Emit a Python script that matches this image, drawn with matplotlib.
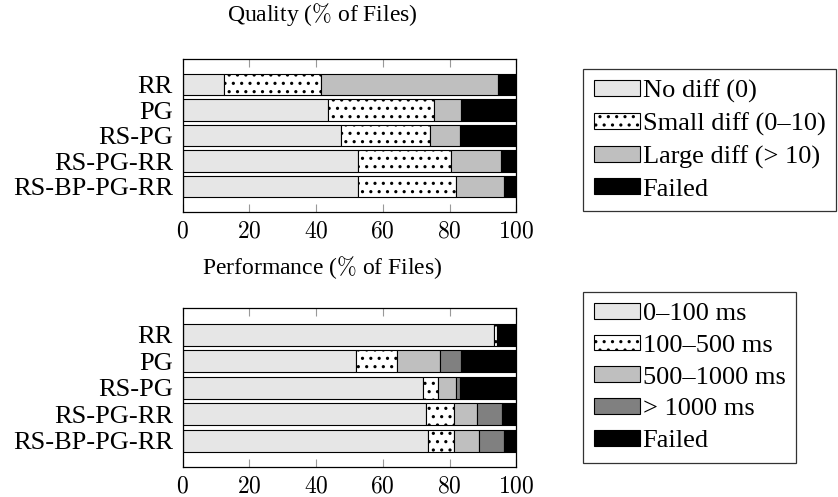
import matplotlib
matplotlib.use("Agg")
import matplotlib.pyplot as plt
from matplotlib.patches import Patch

plt.rcParams['font.family'] = ['Liberation Serif', 'DejaVu Serif']
plt.rcParams['mathtext.fontset'] = 'cm'
plt.rcParams['hatch.linewidth'] = 1.1

# methods, top to bottom
methods = ["RR", "PG", "RS-PG", "RS-PG-RR", "RS-BP-PG-RR"]

# quality shares (% of files)
q_labels = ["No diff (0)", "Small diff (0\u201310)", "Large diff (> 10)", "Failed"]
q_nodiff = [12.5, 43.7, 47.6, 52.5, 52.5]
q_small = [28.9, 31.8, 26.7, 28.0, 29.4]
q_large = [53.1, 8.0, 8.7, 15.0, 14.3]
q_failed = [5.5, 16.5, 17.0, 4.5, 3.8]

# performance shares (% of files)
p_labels = ["0\u2013100 ms", "100\u2013500 ms", "500\u20131000 ms", "> 1000 ms", "Failed"]
p_fast = [93.2, 51.9, 72.2, 72.9, 73.5]
p_mid = [1.0, 12.3, 4.5, 8.3, 7.7]
p_slow = [0.2, 13.0, 5.1, 6.9, 7.5]
p_vslow = [0.0, 6.3, 1.2, 7.6, 7.6]
p_failed = [5.6, 16.5, 17.0, 4.3, 3.7]

xticks = [0, 20, 40, 60, 80, 100]

# fill, hatch per segment
q_styles = [("#e6e6e6", None), ("white", ".."), ("#bfbfbf", None), ("black", None)]
p_styles = [("#e6e6e6", None), ("white", ".."), ("#bfbfbf", None), ("#808080", None), ("black", None)]

fig = plt.figure(figsize=(8.38, 4.97), dpi=100)
ax1 = fig.add_axes([0.218, 0.573, 0.398, 0.308])
ax2 = fig.add_axes([0.218, 0.060, 0.398, 0.320])


def stacked(ax, series, styles, labels, legend_pos):
    ypos = list(range(len(methods)))
    left = [0.0] * len(methods)
    for vals, (fc, hatch) in zip(series, styles):
        ax.barh(ypos, vals, left=left, height=0.84, color=fc, hatch=hatch,
                edgecolor="black", linewidth=0.8)
        left = [a + b for a, b in zip(left, vals)]
    ax.set_xlim(0, 100)
    ax.set_ylim(5, -1)
    ax.set_yticks(ypos)
    ax.set_yticklabels(methods, fontsize=19)
    ax.set_xticks(xticks)
    ax.set_xticklabels(["$%d$" % t for t in xticks], fontsize=17)
    ax.tick_params(axis="x", direction="in", top=True, length=6, color="#999999", pad=7)
    ax.tick_params(axis="y", length=0, pad=7)
    for s in ax.spines.values():
        s.set_linewidth(0.9)
    handles = [Patch(facecolor=fc, hatch=hatch, edgecolor="black", linewidth=0.8)
               for fc, hatch in styles]
    leg = fig.legend(handles, labels, loc="upper left", bbox_to_anchor=legend_pos,
                     fontsize=19, frameon=True, fancybox=False, edgecolor="black",
                     handlelength=1.75, handleheight=0.55, handletextpad=0.1,
                     labelspacing=0.36, borderpad=0.4, borderaxespad=0)
    leg.get_frame().set_linewidth(0.9)


stacked(ax1, [q_nodiff, q_small, q_large, q_failed], q_styles, q_labels, (0.696, 0.861))
stacked(ax2, [p_fast, p_mid, p_slow, p_vslow, p_failed], p_styles, p_labels, (0.696, 0.412))

fig.text(0.385, 0.970, r"Quality ($\%$ of Files)", ha="center", va="center", fontsize=17)
fig.text(0.385, 0.461, r"Performance ($\%$ of Files)", ha="center", va="center", fontsize=17)

fig.savefig("out.png", dpi=100)
